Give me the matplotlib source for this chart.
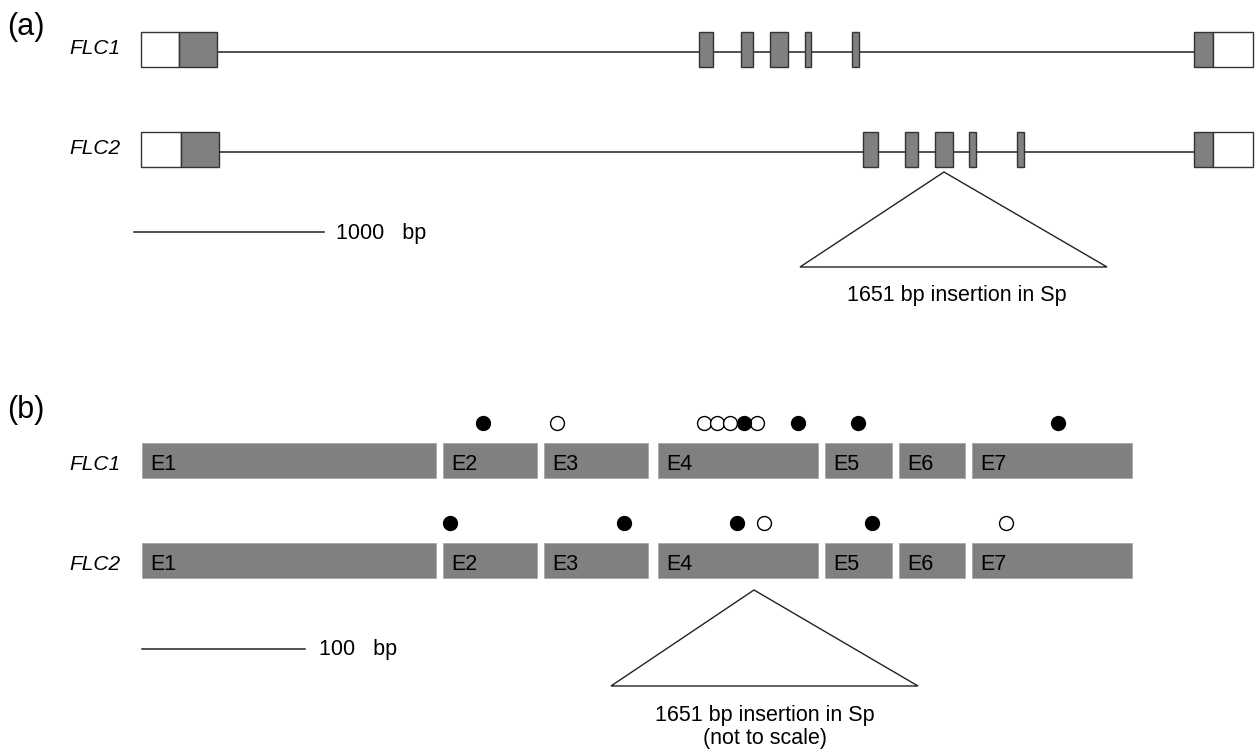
import matplotlib
matplotlib.use("Agg")
import matplotlib.pyplot as plt
from matplotlib.patches import Rectangle, Polygon

plt.rcParams["font.family"] = ["Liberation Sans", "DejaVu Sans"]

# ---- panel (a): gene models, positions along the drawing (px) ----
gene_names = ["FLC1", "FLC2"]
gene_rows = [49, 149]                      # centre of each gene's boxes
gene_span = [(217, 1194), (219, 1194)]     # intron line
utr5 = [(141, 179), (141, 181)]
utr3 = [(1213, 1253), (1213, 1253)]
cds_first = [(179, 217), (181, 219)]
cds_last = [(1194, 1213), (1194, 1213)]
inner_exons = [
    [(699, 713), (741, 753), (770, 788), (805, 811), (852, 859)],
    [(863, 878), (905, 918), (935, 953), (969, 976), (1017, 1024)],
]
scale_a = (134, 324, 232, "1000   bp")
insert_a = [(944, 172), (800, 267), (1107, 267)]
insert_a_label = "1651 bp insertion in Sp"

# ---- panel (b): coding exons, not to scale ----
exon_labels = ["E1", "E2", "E3", "E4", "E5", "E6", "E7"]
exon_start = [142, 443, 544, 658, 825, 899, 972]
exon_end = [436, 537, 648, 818, 892, 965, 1132]
rows_b = [460, 560]
flc1_filled = [483, 744, 798, 858, 1058]
flc1_open = [557, 704, 717, 730, 757]
flc2_filled = [450, 624, 737, 872]
flc2_open = [764, 1006]
scale_b = (142, 305, 649, "100   bp")
insert_b = [(754, 590), (611, 686), (918, 686)]
insert_b_label = "1651 bp insertion in Sp\n(not to scale)"

fig = plt.figure(figsize=(12.57, 7.54), dpi=100)
ax = fig.add_axes([0, 0, 1, 1])
ax.set_xlim(0, 1257)
ax.set_ylim(754, 0)
ax.axis("off")

grey = "#808080"
box_h = 35

# panel (a)
for i, y in enumerate(gene_rows):
    ax.plot(gene_span[i], [y + 3, y + 3], color="#222222", lw=1.1, zorder=1)
    for (x0, x1), fc in [(utr5[i], "white"), (cds_first[i], grey),
                         (cds_last[i], grey), (utr3[i], "white")]:
        ax.add_patch(Rectangle((x0, y - box_h / 2), x1 - x0, box_h, facecolor=fc,
                               edgecolor="#333333", lw=1.0, zorder=2))
    for x0, x1 in inner_exons[i]:
        ax.add_patch(Rectangle((x0, y - box_h / 2), x1 - x0, box_h, facecolor=grey,
                               edgecolor="#333333", lw=1.0, zorder=2))
    ax.text(120, y, gene_names[i], ha="right", va="center", fontsize=15,
            style="italic")

ax.text(7, 27, "(a)", fontsize=22, va="center", ha="left")
ax.plot(scale_a[:2], [scale_a[2]] * 2, color="#222222", lw=1.1)
ax.text(scale_a[1] + 12, scale_a[2] + 2, scale_a[3], fontsize=15.5, va="center")
ax.add_patch(Polygon(insert_a, closed=True, facecolor="white",
                     edgecolor="#222222", lw=1.0))
ax.text(957, 296, insert_a_label, fontsize=15.5, ha="center", va="center")

# panel (b)
ax.text(7, 410, "(b)", fontsize=22, va="center", ha="left")
dots = [(flc1_filled, flc1_open), (flc2_filled, flc2_open)]
for i, y in enumerate(rows_b):
    for lab, x0, x1 in zip(exon_labels, exon_start, exon_end):
        ax.add_patch(Rectangle((x0, y - box_h / 2), x1 - x0, box_h, facecolor=grey,
                               edgecolor="#a8a8a8", lw=0.6, zorder=2))
        ax.text(x0 + 8, y + 5, lab, fontsize=15.5, va="center", ha="left", zorder=3)
    ax.text(120, y + 4, gene_names[i], ha="right", va="center", fontsize=15,
            style="italic")
    filled, opened = dots[i]
    ax.scatter(opened, [y - 37] * len(opened), s=100, facecolor="white",
               edgecolor="black", lw=1.0, zorder=4)
    ax.scatter(filled, [y - 37] * len(filled), s=100, color="black", zorder=5)

ax.plot(scale_b[:2], [scale_b[2]] * 2, color="#222222", lw=1.1)
ax.text(scale_b[1] + 14, scale_b[2] + 1, scale_b[3], fontsize=15.5, va="center")
ax.add_patch(Polygon(insert_b, closed=True, facecolor="white",
                     edgecolor="#222222", lw=1.0))
ax.text(765, 727, insert_b_label, fontsize=15.5, ha="center", va="center",
        linespacing=1.1)

fig.savefig("out.png", dpi=100)
